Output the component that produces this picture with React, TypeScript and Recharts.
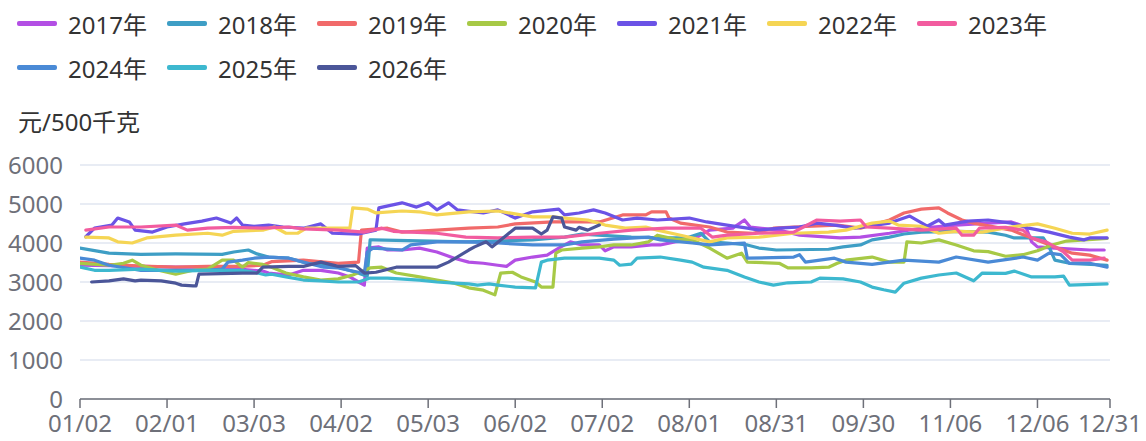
import { CartesianGrid, Line, LineChart, XAxis, YAxis } from "recharts";

// x = trading-day index (0 = 01/02, 355 = 12/31), y = 元/500千克
const tickIdx = [0, 30, 60, 90, 120, 150, 180, 210, 240, 270, 300, 330, 355];
const tickLabels = ["01/02", "02/01", "03/03", "04/02", "05/03", "06/02", "07/02", "08/01", "08/31", "09/30", "11/06", "12/06", "12/31"];
const yTicks = [0, 1000, 2000, 3000, 4000, 5000, 6000];

const s2017: [number, number][] = [
  [0, 3430], [10, 3420], [21, 3400], [33, 3380], [44, 3380], [55, 3330], [63, 3280], [65, 3230], [72, 3180], [77, 3300],
  [83, 3300], [89, 3230], [93, 3130], [96, 3000], [98, 2920], [99, 3870], [103, 3900], [106, 3820], [111, 3820], [117, 3870],
  [123, 3770], [129, 3610], [134, 3510], [139, 3480], [144, 3430], [147, 3400], [150, 3560], [156, 3640], [161, 3690], [165, 3870],
  [167, 3950], [169, 4030], [173, 3950], [179, 3950], [181, 3800], [184, 3900], [190, 3900], [197, 3950], [200, 3950], [205, 4030],
  [211, 4080], [217, 4330], [225, 4380], [229, 4590], [231, 4410], [241, 4330], [248, 4200], [258, 4150], [262, 4130], [269, 4150],
  [279, 4250], [290, 4380], [302, 4460], [313, 4510], [321, 4540], [326, 4410], [328, 4030], [330, 3900], [336, 3870], [348, 3820], [353, 3820],
];
const s2018: [number, number][] = [
  [0, 3870], [10, 3740], [21, 3710], [33, 3720], [49, 3710], [53, 3770], [58, 3820], [61, 3720], [65, 3640], [72, 3610],
  [77, 3510], [89, 3380], [95, 3250], [99, 3150], [100, 4080], [101, 4080], [121, 4050], [133, 4030], [156, 4080], [167, 4150],
  [173, 4230], [190, 4150], [200, 4130], [209, 4130], [214, 4250], [217, 4030], [223, 4000], [230, 3950], [234, 3870], [240, 3820],
  [258, 3840], [263, 3900], [269, 3950], [273, 4080], [279, 4150], [284, 4230], [290, 4280], [302, 4300], [313, 4280], [319, 4200],
  [322, 4130], [332, 4130], [334, 3900], [336, 3560], [341, 3480], [354, 3430],
];
const s2019: [number, number][] = [
  [0, 3510], [10, 3450], [21, 3410], [33, 3380], [44, 3400], [55, 3400], [63, 3430], [66, 3520], [77, 3560], [89, 3480],
  [96, 3510], [97, 4330], [106, 4380], [111, 4280], [123, 4330], [134, 4380], [144, 4410], [150, 4490], [163, 4540], [179, 4540],
  [187, 4720], [195, 4720], [197, 4800], [202, 4800], [203, 4640], [207, 4510], [217, 4410], [223, 4280], [232, 4250], [239, 4380],
  [246, 4410], [261, 4460], [269, 4380], [279, 4590], [284, 4770], [290, 4870], [296, 4900], [299, 4770], [304, 4590], [308, 4510],
  [321, 4330], [328, 4130], [336, 3900], [342, 3740], [348, 3690], [354, 3560],
];
const s2020: [number, number][] = [
  [0, 3480], [10, 3430], [15, 3480], [18, 3560], [21, 3430], [27, 3300], [33, 3200], [39, 3300], [44, 3330], [49, 3560],
  [53, 3560], [56, 3380], [58, 3500], [63, 3450], [66, 3380], [71, 3230], [77, 3130], [83, 3050], [89, 3080], [94, 3180],
  [100, 3360], [104, 3380], [109, 3230], [117, 3130], [123, 3050], [129, 2970], [134, 2850], [139, 2790], [143, 2670], [145, 3230],
  [149, 3250], [152, 3130], [157, 3000], [159, 2870], [163, 2870], [164, 3740], [166, 3820], [173, 3870], [179, 3900], [184, 3950],
  [190, 3950], [196, 4030], [199, 4200], [205, 4100], [211, 4080], [217, 3870], [223, 3610], [228, 3740], [230, 3510], [241, 3480],
  [244, 3360], [252, 3360], [258, 3380], [261, 3480], [264, 3560], [273, 3640], [279, 3510], [284, 3510], [285, 4030], [290, 4000],
  [296, 4080], [302, 3950], [308, 3800], [313, 3780], [319, 3660], [325, 3700], [330, 3800], [335, 3950], [340, 4050], [354, 4120],
];
const s2021: [number, number][] = [
  [2, 4160], [5, 4380], [11, 4460], [13, 4640], [17, 4540], [19, 4330], [25, 4280], [30, 4410], [36, 4490], [42, 4560],
  [47, 4640], [52, 4510], [54, 4640], [56, 4460], [60, 4430], [65, 4460], [70, 4410], [77, 4380], [83, 4490], [87, 4250],
  [96, 4230], [102, 4330], [103, 4900], [111, 5030], [116, 4920], [120, 5030], [123, 4850], [127, 5030], [130, 4850], [139, 4770],
  [144, 4850], [150, 4640], [156, 4800], [165, 4870], [167, 4720], [172, 4770], [177, 4850], [181, 4770], [187, 4590], [192, 4640],
  [199, 4590], [210, 4640], [216, 4540], [223, 4460], [230, 4380], [234, 4330], [241, 4380], [248, 4410], [254, 4510], [260, 4460],
  [267, 4380], [279, 4510], [286, 4690], [292, 4430], [296, 4590], [298, 4460], [306, 4560], [313, 4590], [321, 4510], [327, 4380],
  [334, 4280], [341, 4150], [346, 4080], [348, 4130], [354, 4130],
];
const s2022: [number, number][] = [
  [2, 4150], [10, 4130], [13, 4030], [18, 4000], [23, 4130], [33, 4200], [44, 4250], [49, 4200], [53, 4300], [63, 4330],
  [67, 4410], [71, 4250], [75, 4250], [78, 4380], [89, 4380], [93, 4380], [94, 4900], [99, 4870], [102, 4770], [111, 4820],
  [117, 4800], [123, 4720], [134, 4800], [144, 4820], [156, 4670], [163, 4670], [167, 4640], [175, 4590], [181, 4460], [188, 4380],
  [195, 4410], [199, 4330], [207, 4200], [217, 4030], [223, 4130], [234, 4150], [246, 4250], [258, 4280], [264, 4330], [273, 4510],
  [279, 4560], [282, 4460], [290, 4430], [296, 4250], [302, 4300], [311, 4280], [321, 4410], [330, 4490], [336, 4380], [342, 4250],
  [348, 4230], [354, 4330],
];
const s2023: [number, number][] = [
  [2, 4330], [10, 4410], [21, 4410], [33, 4460], [37, 4330], [44, 4380], [53, 4400], [63, 4380], [72, 4410], [77, 4360],
  [89, 4330], [98, 4280], [104, 4380], [108, 4300], [114, 4280], [123, 4250], [133, 4150], [144, 4130], [156, 4150], [167, 4150],
  [179, 4250], [190, 4330], [202, 4380], [214, 4380], [218, 4150], [223, 4200], [234, 4250], [246, 4280], [254, 4590], [262, 4560],
  [269, 4590], [271, 4410], [279, 4380], [290, 4330], [302, 4380], [304, 4200], [308, 4200], [310, 4380], [319, 4400], [325, 4330],
  [328, 4130], [333, 4030], [339, 3770], [342, 3560], [348, 3560], [353, 3610],
];
const s2024: [number, number][] = [
  [0, 3610], [5, 3560], [10, 3430], [16, 3360], [21, 3300], [33, 3300], [44, 3300], [49, 3330], [51, 3510], [56, 3560],
  [60, 3610], [65, 3640], [72, 3610], [77, 3510], [84, 3380], [89, 3360], [96, 3250], [98, 3230], [99, 3770], [101, 3870],
  [111, 3820], [114, 3950], [123, 4030], [133, 4030], [144, 4000], [156, 3950], [167, 3950], [173, 4030], [184, 4100], [196, 4150],
  [200, 4080], [211, 4000], [217, 3950], [229, 4000], [230, 3610], [246, 3640], [248, 3700], [250, 3510], [260, 3610], [264, 3510],
  [273, 3450], [284, 3560], [296, 3510], [302, 3640], [313, 3510], [325, 3640], [330, 3560], [334, 3740], [338, 3700], [341, 3480],
  [348, 3480], [354, 3380],
];
const s2025: [number, number][] = [
  [0, 3380], [5, 3300], [10, 3300], [21, 3330], [33, 3280], [44, 3300], [56, 3300], [60, 3250], [64, 3180], [66, 3200],
  [71, 3130], [77, 3050], [83, 3030], [89, 3000], [96, 3000], [100, 3100], [106, 3100], [117, 3050], [123, 3000], [129, 2970],
  [134, 2950], [137, 2920], [141, 2950], [144, 2920], [150, 2870], [157, 2850], [159, 3510], [161, 3560], [167, 3610], [179, 3610],
  [184, 3560], [186, 3430], [190, 3460], [192, 3610], [200, 3640], [207, 3560], [211, 3510], [215, 3380], [223, 3300], [229, 3130],
  [234, 3000], [239, 2920], [244, 2980], [252, 3000], [255, 3100], [263, 3080], [269, 3000], [273, 2870], [277, 2800], [281, 2740],
  [284, 2970], [290, 3100], [296, 3180], [302, 3230], [308, 3030], [311, 3230], [319, 3220], [322, 3280], [328, 3130], [336, 3130],
  [339, 3150], [341, 2920], [354, 2950],
];
const s2026: [number, number][] = [
  [4, 3000], [10, 3030], [15, 3080], [19, 3030], [21, 3050], [28, 3030], [33, 2970], [35, 2920], [39, 2900], [40, 2900],
  [41, 3200], [56, 3230], [61, 3230], [63, 3380], [72, 3400], [77, 3400], [83, 3510], [89, 3400], [95, 3420], [98, 3230],
  [102, 3250], [109, 3380], [117, 3380], [123, 3380], [127, 3510], [130, 3640], [134, 3820], [136, 3900], [140, 4030], [142, 3900],
  [147, 4200], [150, 4380], [156, 4380], [159, 4230], [161, 4330], [163, 4670], [166, 4640], [167, 4410], [171, 4330], [172, 4400],
  [175, 4330], [179, 4460],
];

const series = [
  { name: "2017年", color: "#b34fe4", data: s2017 },
  { name: "2018年", color: "#3e9ec5", data: s2018 },
  { name: "2019年", color: "#f16a6a", data: s2019 },
  { name: "2020年", color: "#a7c946", data: s2020 },
  { name: "2021年", color: "#6b53e6", data: s2021 },
  { name: "2022年", color: "#f5d554", data: s2022 },
  { name: "2023年", color: "#f25c9f", data: s2023 },
  { name: "2024年", color: "#4a8ad6", data: s2024 },
  { name: "2025年", color: "#3db8cf", data: s2025 },
  { name: "2026年", color: "#4b5699", data: s2026 },
];

const font = "'Noto Sans', 'Noto Sans CJK SC', sans-serif";

function LegendBox() {
  return (
    <>
      {series.map((s, i) => {
        const row = i < 7 ? 0 : 1;
        const col = i < 7 ? i : i - 7;
        return (
          <div
            key={s.name}
            style={{ position: "absolute", left: 17 + col * 150, top: row === 0 ? 7 : 51, height: 32, display: "flex", alignItems: "center" }}
          >
            <div style={{ width: 40, height: 5, borderRadius: 2, background: s.color }} />
            <span style={{ marginLeft: 11, fontSize: 24, color: "#333", fontFamily: font, whiteSpace: "nowrap" }}>{s.name}</span>
          </div>
        );
      })}
    </>
  );
}

export default function App() {
  return (
    <div style={{ position: "absolute", left: 0, top: 0, width: 1146, height: 441, background: "#fff" }}>
      <LegendBox />
      <div style={{ position: "absolute", left: 18, top: 103, fontSize: 24, color: "#333", fontFamily: font }}>元/500千克</div>
      <div style={{ position: "absolute", left: 0, top: 0 }}>
        <LineChart width={1146} height={441} margin={{ top: 165, right: 36, left: 8, bottom: 2 }}>
          <CartesianGrid horizontal vertical={false} stroke="#e0e6f1" strokeWidth={1.5} />
          <XAxis
            type="number"
            dataKey="x"
            domain={[0, 355]}
            ticks={tickIdx}
            tickFormatter={(v: number) => tickLabels[tickIdx.indexOf(v)] ?? ""}
            interval={0}
            stroke="#6e7079"
            strokeWidth={1.5}
            tickSize={9}
            tickMargin={7}
            height={40}
            tick={{ fill: "#6e7079", fontSize: 24, fontFamily: font }}
            allowDataOverflow
          />
          <YAxis
            type="number"
            domain={[0, 6000]}
            ticks={yTicks}
            interval={0}
            width={72}
            axisLine={false}
            tickLine={false}
            tickSize={8}
            tickMargin={9}
            tick={{ fill: "#6e7079", fontSize: 24, fontFamily: font }}
          />
          {series.map((s) => (
            <Line
              key={s.name}
              data={s.data.map(([x, y]) => ({ x, y }))}
              dataKey="y"
              name={s.name}
              type="linear"
              stroke={s.color}
              strokeWidth={3.2}
              strokeLinejoin="round"
              strokeLinecap="round"
              dot={false}
              isAnimationActive={false}
            />
          ))}
        </LineChart>
      </div>
    </div>
  );
}
